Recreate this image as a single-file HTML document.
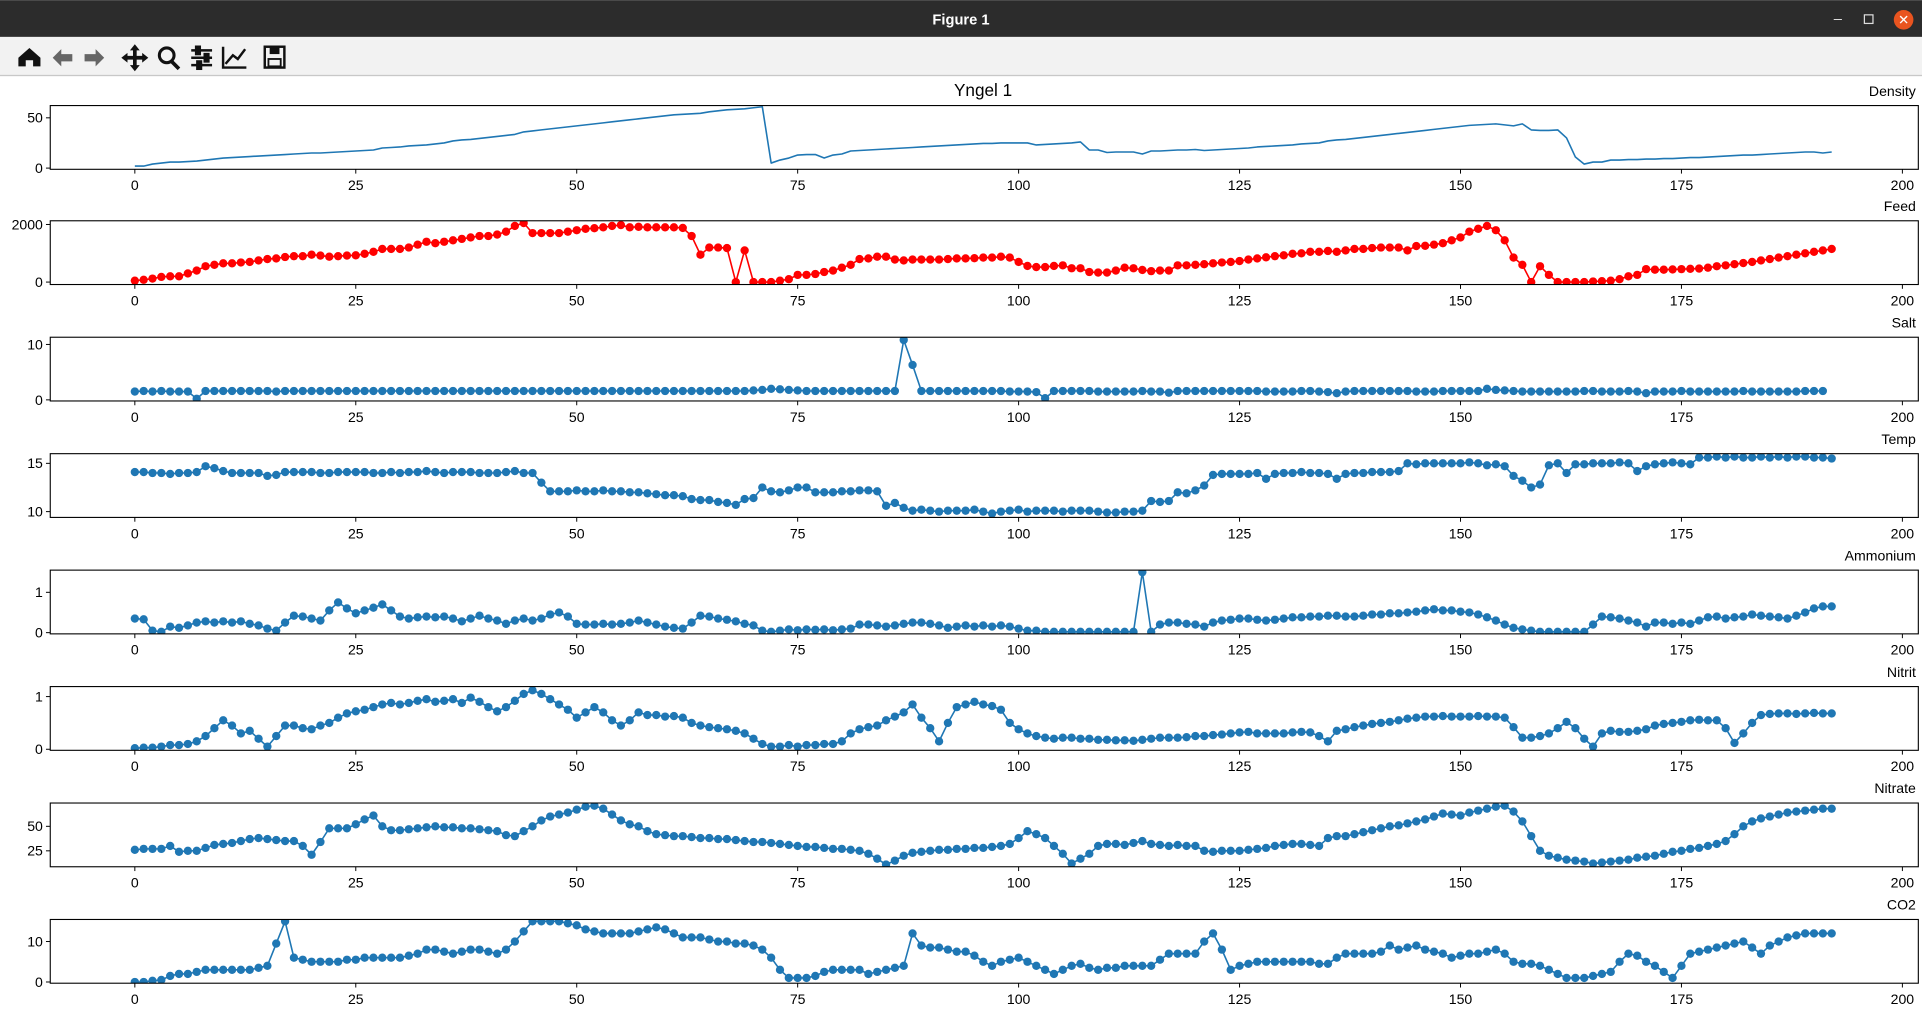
<!DOCTYPE html>
<html><head><meta charset="utf-8"><style>
html,body{margin:0;padding:0;background:#fff;overflow:hidden}
svg{display:block;font-family:"Liberation Sans","DejaVu Sans",sans-serif}
</style></head><body>
<svg id="fig" width="1922" height="1014" viewBox="0 0 1568 827" xmlns="http://www.w3.org/2000/svg">
<rect x="0" y="0" width="1568" height="30" fill="#2c2c2c"/>
<text x="784" y="20" text-anchor="middle" font-size="12" font-weight="bold" fill="#fff">Figure 1</text>
<text x="1496" y="19" font-size="12" fill="#ddd">–</text>
<rect x="1521" y="12" width="7" height="7" fill="none" stroke="#ddd" stroke-width="1"/>
<circle cx="1553" cy="16" r="8" fill="#e9541f"/>
<text x="1553" y="20" text-anchor="middle" font-size="11" fill="#fff">✕</text>
<rect x="0" y="30" width="1568" height="32" fill="#f2f2f2"/>
<line x1="0" y1="61.5" x2="1568" y2="61.5" stroke="#c8c8c8"/>
<g><path d="M15 54 V47 L24 39 L33 47 V54 H27 V49 H21 V54 Z" fill="#111"/></g>
<g><path d="M43 47 L50 40 V44 H59 V50 H50 V54 Z" fill="#666"/></g>
<g><path d="M85 47 L78 40 V44 H69 V50 H78 V54 Z" fill="#666"/></g>
<g><path d="M110 38 V56 M101 47 H119" stroke="#111" stroke-width="3"/><path d="M110 36 L106 41 H114Z M110 58 L106 53 H114Z M99 47 L104 43 V51Z M121 47 L116 43 V51Z" fill="#111"/></g>
<g><circle cx="136" cy="45" r="6" fill="none" stroke="#111" stroke-width="2.5"/><line x1="140" y1="50" x2="146" y2="56" stroke="#111" stroke-width="3"/></g>
<g stroke="#111" stroke-width="2"><line x1="156" y1="41" x2="173" y2="41"/><line x1="156" y1="47" x2="173" y2="47"/><line x1="156" y1="53" x2="173" y2="53"/><rect x="160" y="38" width="3" height="6" fill="#111"/><rect x="167" y="44" width="3" height="6" fill="#111"/><rect x="161" y="50" width="3" height="6" fill="#111"/></g>
<g fill="none" stroke="#111" stroke-width="2"><path d="M182 38 V55 H201"/><path d="M184 52 L190 45 L194 48 L200 40"/></g>
<g><rect x="216" y="38" width="16" height="17" fill="none" stroke="#111" stroke-width="2"/><rect x="220" y="38" width="8" height="6" fill="#111"/><rect x="219" y="48" width="10" height="6" fill="none" stroke="#111" stroke-width="1.5"/></g>
<text x="802" y="78" text-anchor="middle" font-size="14" fill="#000">Yngel 1</text>
<g id="panels"></g>
</svg>
<script>
const density=[2,2,4,5,6,6,6.5,7,8,9,10,10.5,11,11.5,12,12.5,13,13.5,14,14.5,15,15,15.5,16,16.5,17,17.5,18,20,20.5,21,22,22.5,23,24,25,27,28,28.5,29.5,30.5,31.5,32.5,33.5,36,37,38,39,40,41,42,43,44,45,46,47,48,49,50,51,52,53,53.5,54,54.5,56,57,58,58.5,59,60,61,5,8,10,13,13.5,13.5,10,13,14,17,17.5,18,18.5,19,19.5,20,20.5,21,21.5,22,22.5,23,23.5,24,24.5,24.5,25,25,25,25,23,23.5,24,24.5,25,26,18,18,15.5,16,16,16,14,17,17,17.5,18,18,18.5,17.5,18,18.5,19,19.5,20,21,21.5,22,22.5,23,24,24.5,25,27,28,28.5,29.5,30.5,31.5,32.5,33.5,34.5,35.5,36.5,37.5,38.5,39.5,40.5,41.5,42.5,43,43.5,44,43,42,44,38,37.5,37.5,38,30,11,4,6,6,8,8,8.5,8.5,9,9,9.5,9.5,10,10.5,10.5,11,11.5,12,12.5,13,13,13.5,14,14.5,15,15.5,16,16,15,16];
const feed=[50,80,120,180,200,200,300,400,550,600,650,650,680,700,750,800,820,870,900,900,950,920,880,900,920,930,980,1050,1150,1150,1150,1200,1300,1400,1350,1400,1450,1500,1550,1600,1600,1650,1750,1950,2050,1700,1700,1700,1700,1750,1800,1850,1870,1900,1950,1980,1900,1920,1900,1900,1900,1900,1880,1600,950,1200,1200,1180,0,1100,0,0,0,50,100,250,250,280,350,400,500,600,800,820,880,880,780,750,780,780,780,780,800,820,820,830,850,850,880,850,700,560,520,520,560,580,480,480,350,330,330,400,500,480,420,380,400,400,580,580,600,620,650,680,700,730,780,820,860,900,930,980,1000,1050,1050,1080,1050,1100,1150,1150,1180,1200,1200,1200,1100,1250,1260,1300,1350,1450,1550,1750,1850,1950,1800,1450,850,600,0,550,250,0,0,0,0,20,30,50,100,200,250,450,430,430,440,450,460,470,500,550,580,620,660,700,750,800,850,900,950,1000,1050,1100,1150];
const salt=[1.5,1.6,1.5,1.6,1.5,1.5,1.5,0.2,1.6,1.6,1.6,1.6,1.6,1.6,1.6,1.6,1.5,1.6,1.6,1.6,1.6,1.6,1.6,1.6,1.6,1.6,1.6,1.6,1.6,1.6,1.6,1.6,1.6,1.6,1.6,1.6,1.6,1.6,1.6,1.6,1.6,1.6,1.6,1.6,1.6,1.6,1.6,1.6,1.6,1.6,1.6,1.6,1.6,1.6,1.6,1.6,1.6,1.6,1.6,1.6,1.6,1.6,1.6,1.6,1.6,1.6,1.6,1.6,1.6,1.6,1.7,1.8,2.0,1.9,1.8,1.7,1.6,1.6,1.6,1.6,1.6,1.6,1.6,1.6,1.6,1.6,1.6,10.8,6.3,1.6,1.6,1.6,1.6,1.6,1.6,1.6,1.6,1.6,1.6,1.5,1.5,1.5,1.4,0.3,1.6,1.6,1.6,1.6,1.6,1.5,1.5,1.5,1.5,1.5,1.6,1.5,1.5,1.3,1.6,1.6,1.6,1.6,1.6,1.6,1.6,1.6,1.6,1.6,1.5,1.5,1.5,1.5,1.6,1.6,1.5,1.4,1.2,1.5,1.6,1.6,1.6,1.6,1.6,1.6,1.6,1.5,1.5,1.5,1.6,1.6,1.6,1.6,1.6,2.0,1.8,1.7,1.6,1.5,1.5,1.5,1.5,1.5,1.5,1.5,1.6,1.6,1.5,1.5,1.5,1.6,1.5,1.2,1.5,1.5,1.5,1.6,1.5,1.5,1.5,1.5,1.5,1.5,1.6,1.5,1.5,1.5,1.5,1.5,1.5,1.6,1.6,1.6];
const temp=[14.1,14.1,14.0,14.0,13.9,14.0,14.0,14.1,14.7,14.5,14.2,14.0,14.0,14.0,14.0,13.7,13.8,14.1,14.1,14.1,14.1,14.0,14.0,14.1,14.1,14.1,14.1,14.0,14.0,14.1,14.0,14.1,14.1,14.2,14.1,14.0,14.1,14.1,14.1,14.0,14.0,14.0,14.1,14.2,14.0,14.0,13.0,12.1,12.1,12.1,12.2,12.1,12.1,12.2,12.1,12.1,12.0,12.0,11.9,11.8,11.7,11.7,11.6,11.3,11.2,11.2,11.0,10.9,10.7,11.3,11.4,12.5,12.1,12.0,12.2,12.5,12.5,12.0,12.0,12.0,12.1,12.1,12.2,12.2,12.1,10.6,10.9,10.4,10.1,10.2,10.1,10.0,10.1,10.1,10.1,10.2,10.0,9.8,10.0,10.1,10.2,10.0,10.1,10.1,10.1,10.0,10.1,10.1,10.1,10.0,9.9,9.9,10.0,10.0,10.1,11.1,11.0,11.1,12.0,11.9,12.2,12.7,13.8,13.9,13.9,13.9,13.9,14.0,13.4,13.9,14.0,14.0,14.1,14.0,14.0,13.9,13.4,13.9,14.0,14.0,14.1,14.1,14.1,14.2,15.0,14.9,15.0,15.0,15.0,15.0,15.0,15.1,15.0,14.8,14.9,14.7,13.7,13.2,12.5,12.8,14.8,15.0,14.0,14.9,14.9,15.0,15.0,15.0,15.1,15.0,14.2,14.7,14.9,15.0,15.1,15.0,14.9,15.6,15.6,15.7,15.6,15.7,15.6,15.6,15.7,15.6,15.7,15.6,15.7,15.7,15.6,15.6,15.5];
const ammonium=[0.35,0.33,0.05,0.02,0.15,0.12,0.18,0.25,0.28,0.25,0.28,0.25,0.28,0.22,0.18,0.1,0.05,0.25,0.42,0.4,0.35,0.3,0.55,0.75,0.6,0.48,0.55,0.62,0.7,0.55,0.4,0.35,0.38,0.4,0.38,0.4,0.35,0.28,0.35,0.42,0.35,0.3,0.22,0.3,0.35,0.3,0.35,0.45,0.5,0.4,0.22,0.2,0.2,0.22,0.2,0.22,0.25,0.3,0.25,0.2,0.15,0.12,0.1,0.25,0.42,0.4,0.35,0.32,0.28,0.22,0.18,0.05,0.02,0.05,0.08,0.06,0.08,0.07,0.08,0.06,0.08,0.1,0.2,0.2,0.18,0.15,0.18,0.22,0.25,0.25,0.22,0.18,0.12,0.15,0.18,0.15,0.18,0.15,0.18,0.15,0.1,0.05,0.05,0.02,0.02,0.02,0.02,0.02,0.02,0.02,0.02,0.02,0.02,0.02,1.5,0.02,0.2,0.25,0.25,0.22,0.2,0.15,0.25,0.3,0.32,0.35,0.35,0.32,0.3,0.32,0.35,0.38,0.38,0.4,0.4,0.42,0.42,0.4,0.4,0.42,0.45,0.45,0.48,0.48,0.5,0.52,0.55,0.58,0.55,0.55,0.52,0.5,0.45,0.38,0.3,0.2,0.12,0.08,0.05,0.02,0.02,0.02,0.02,0.02,0.02,0.2,0.4,0.38,0.35,0.3,0.25,0.15,0.25,0.25,0.22,0.25,0.22,0.3,0.38,0.4,0.35,0.38,0.4,0.45,0.42,0.4,0.38,0.35,0.42,0.5,0.6,0.65,0.65];
const nitrit=[0.02,0.03,0.03,0.05,0.08,0.08,0.1,0.15,0.25,0.4,0.55,0.45,0.3,0.35,0.2,0.05,0.25,0.45,0.45,0.4,0.38,0.45,0.5,0.6,0.68,0.72,0.75,0.8,0.85,0.88,0.85,0.88,0.92,0.95,0.9,0.92,0.95,0.88,0.98,0.9,0.8,0.72,0.8,0.92,1.05,1.12,1.05,0.95,0.85,0.75,0.6,0.7,0.8,0.7,0.55,0.45,0.55,0.7,0.65,0.65,0.62,0.63,0.6,0.5,0.45,0.42,0.4,0.38,0.35,0.3,0.2,0.1,0.05,0.05,0.08,0.05,0.08,0.08,0.1,0.1,0.15,0.3,0.38,0.42,0.45,0.55,0.62,0.7,0.85,0.6,0.4,0.15,0.5,0.8,0.85,0.9,0.85,0.82,0.75,0.5,0.38,0.3,0.25,0.22,0.2,0.22,0.22,0.2,0.2,0.18,0.18,0.17,0.17,0.16,0.18,0.2,0.22,0.22,0.22,0.23,0.25,0.25,0.27,0.28,0.3,0.32,0.33,0.3,0.3,0.3,0.3,0.32,0.33,0.32,0.25,0.15,0.35,0.38,0.42,0.45,0.48,0.5,0.52,0.55,0.58,0.6,0.62,0.62,0.63,0.62,0.62,0.62,0.63,0.62,0.62,0.6,0.42,0.22,0.22,0.25,0.3,0.4,0.52,0.4,0.2,0.05,0.3,0.35,0.33,0.33,0.35,0.38,0.45,0.48,0.5,0.52,0.55,0.56,0.55,0.55,0.4,0.12,0.3,0.5,0.65,0.67,0.68,0.68,0.67,0.68,0.69,0.68,0.68];
const nitrate=[26,27,27,27,30,24,25,25,28,31,32,33,35,37,38,37,36,35,35,30,21,34,48,48,48,52,57,61,50,46,46,47,48,49,50,49,49,48,48,47,46,45,41,40,45,50,56,60,62,64,67,70,71,68,62,56,52,50,45,42,41,40,40,39,38,38,37,37,36,35,34,34,33,32,31,30,29,29,28,27,27,26,25,22,17,11,15,20,23,24,25,26,26,27,27,28,28,29,30,32,38,45,42,38,30,22,12,17,22,30,32,32,31,33,35,32,31,30,31,30,30,25,24,25,25,25,26,27,28,30,31,32,32,31,30,38,40,40,42,44,46,48,50,51,53,55,57,60,63,62,61,64,66,68,70,71,65,55,40,25,20,18,16,15,14,12,13,14,15,16,18,19,20,22,24,25,27,28,30,32,35,42,50,55,58,60,62,64,65,66,67,68,68];
const co2=[0,0,0.3,0.5,1.5,2,2,2.5,3,3,3,3,3,3,3.5,4,9.5,15,6,5.5,5,5,5,5,5.5,5.5,6,6,6,6,6,6.5,7,8,8,7.5,7,7.5,8,8,7.5,7,8,10,12.5,15,15,15,15,14.5,14,13,12.5,12,12,12,12,12.5,13,13.5,13,12,11,11,11,10.5,10,10,9.5,9.5,9,8,6,3,1,1,1,1.5,2.5,3,3,3,3,2,2.5,3,3.5,4,12,9,8.5,8.5,8,7.5,7.5,6.5,5,4,5,5.5,6,5,4,3,2,3,4,4.5,3.5,3,3.5,3.5,4,4,4,4,5.5,7,7,7,7,10,12,8,3,4,4.5,5,5,5,5,5,5,5,4.5,4.5,6,7,7,7,7,7.5,9,8,8.5,9,8,7.5,7,6,6.5,7,7,7.5,8,7,5,4.5,4.5,4,3,2,1,1,1,1.5,2,2.5,5,7,6.5,5,4,2.5,1,4,7,7.5,8,8.5,9,9.5,10,8.5,7,9,10,11,11.5,12,12,12,12];
const xTicks=[0,25,50,75,100,125,150,175,200];

const NS='http://www.w3.org/2000/svg';
const root=document.getElementById('panels');
const AX_L=41,AX_R=1565;
function xs(i){return 110+(1552-110)*i/200;}
function mk(tag,attrs,parent){const e=document.createElementNS(NS,tag);for(const k in attrs)e.setAttribute(k,attrs[k]);parent.appendChild(e);return e;}
const panels=[
 {name:'Density',data:density,top:86,dom:[-1.2,62.2],ticks:[0,50],color:'#1f77b4',marker:false},
 {name:'Feed',data:feed,top:180,dom:[-85,2128],ticks:[0,2000],color:'#ff0000',marker:true},
 {name:'Salt',data:salt,top:275,dom:[-0.2,11.3],ticks:[0,10],color:'#1f77b4',marker:true},
 {name:'Temp',data:temp,top:370,dom:[9.4,16],ticks:[10,15],color:'#1f77b4',marker:true},
 {name:'Ammonium',data:ammonium,top:465,dom:[-0.03,1.55],ticks:[0,1],color:'#1f77b4',marker:true},
 {name:'Nitrit',data:nitrit,top:560,dom:[-0.02,1.19],ticks:[0,1],color:'#1f77b4',marker:true},
 {name:'Nitrate',data:nitrate,top:655,dom:[8.75,73.75],ticks:[25,50],color:'#1f77b4',marker:true},
 {name:'CO2',data:co2,top:750,dom:[-0.3,15.45],ticks:[0,10],color:'#1f77b4',marker:true}
];
const H=52;
panels.forEach((p,pi)=>{
  const key=p.name.toLowerCase();
  const g=mk('g',{},root);
  
  
  const bot=p.top+H;
  const ys=v=>bot-(v-p.dom[0])/(p.dom[1]-p.dom[0])*H;
  const cp=mk('clipPath',{id:'cp'+pi},g);
  mk('rect',{x:AX_L,y:p.top,width:AX_R-AX_L,height:H},cp);
  const t=mk('text',{x:1563,y:p.top-8,'text-anchor':'end','font-size':'11.5',fill:'#000'},g);
  t.textContent=p.name;
  
  
  const plot=mk('g',{'clip-path':'url(#cp'+pi+')'},g);
  
  
  const pts=p.data.map((v,i)=>xs(i).toFixed(2)+','+ys(v).toFixed(2)).join(' ');
  const line=mk('polyline',{points:pts,fill:'none',stroke:p.color,'stroke-width':'1.3','stroke-linejoin':'round'},plot);
  
  
  if(p.marker){p.data.forEach((v,i)=>{
    const c=mk('circle',{cx:xs(i).toFixed(2),cy:ys(v).toFixed(2),r:'3.4',fill:p.color},plot);
    
    
  });}
  const fr=mk('rect',{x:AX_L,y:p.top,width:AX_R-AX_L,height:H,fill:'none',stroke:'#000','stroke-width':'0.9'},g);
  
  
  xTicks.forEach(tv=>{
    const x=xs(tv);
    mk('line',{x1:x,y1:bot,x2:x,y2:bot+3.5,stroke:'#000','stroke-width':'0.8'},g);
    const tl=mk('text',{x:x,y:bot+17,'text-anchor':'middle','font-size':'11.5',fill:'#000'},g);
    tl.textContent=tv;
    
    
  });
  p.ticks.forEach(tv=>{
    const y=ys(tv);
    mk('line',{x1:AX_L-3.5,y1:y,x2:AX_L,y2:y,stroke:'#000','stroke-width':'0.8'},g);
    const tl=mk('text',{x:AX_L-6,y:y+4,'text-anchor':'end','font-size':'11.5',fill:'#000'},g);
    tl.textContent=tv;
    
    
  });
});
</script>
</body></html>
